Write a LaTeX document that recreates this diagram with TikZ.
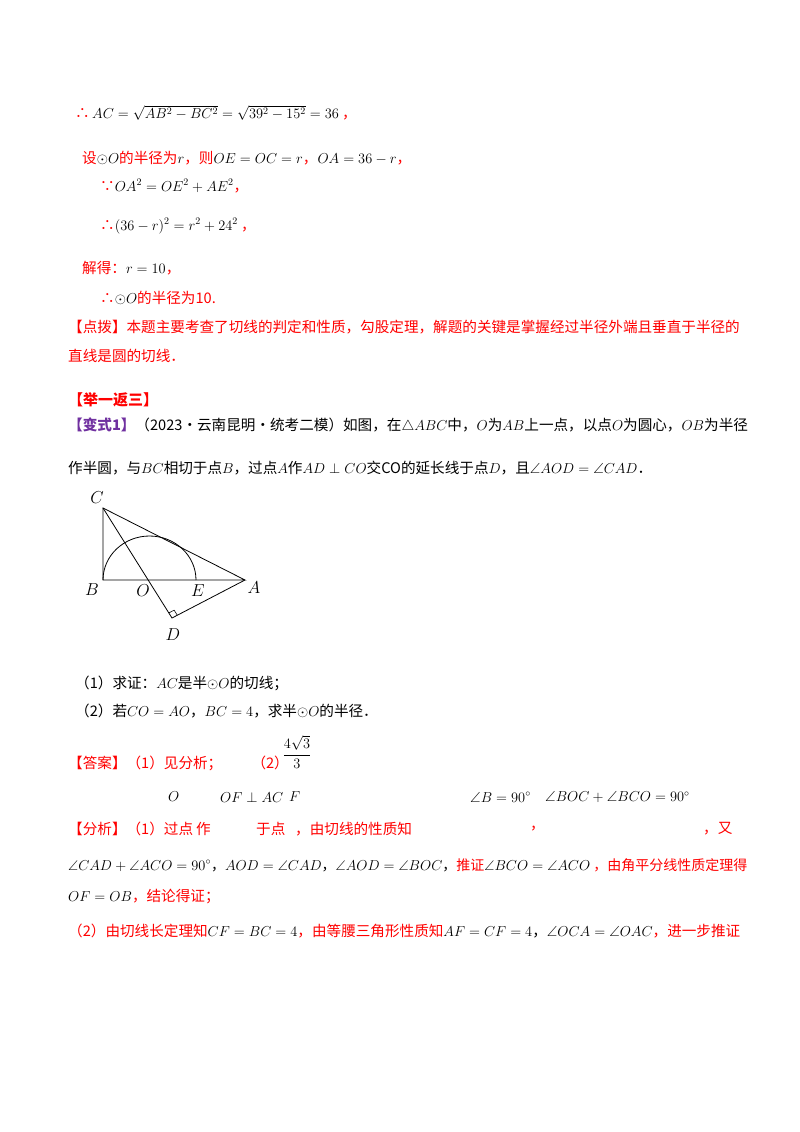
\documentclass[tikz,border=0pt]{standalone}
\usepackage{amsmath,amssymb}
\usepackage{fontspec}
\usetikzlibrary{calc}
\setmainfont{Noto Sans CJK SC}
\definecolor{rd}{RGB}{255,0,0}
\definecolor{pu}{RGB}{112,48,160}
\newcommand{\R}[1]{\textcolor{rd}{#1}}
\begin{document}
\begin{tikzpicture}[x=1pt,y=-1pt,
  ln/.style={anchor=west,inner sep=0pt,font=\fontsize{14.6}{16}\selectfont},
  lb/.style={inner sep=0pt,font=\fontsize{16}{16}\selectfont}]
\useasboundingbox (0,0) rectangle (800,1132);
\fill[white] (0,0) rectangle (800,1132);
\node[ln] (l1) at (75,113) {\R{∴}\,$AC=\sqrt{AB^2-BC^2}=\sqrt{39^2-15^2}=36$\ \R{，}};
\node[ln] (l2) at (82,158) {\R{设}$\odot O$\R{的半径为}$r$\R{，则}$OE=OC=r$\R{，}$OA=36-r$\R{，}};
\node[ln] (l3) at (100,186) {\R{∵}$OA^2=OE^2+AE^2$\R{，}};
\node[ln] (l4) at (100,226) {\R{∴}$(36-r)^2=r^2+24^2$\ \R{，}};
\node[ln] (l5) at (82,268) {\R{解得：}$r=10$\R{，}};
\node[ln] (l6) at (100,298) {\R{∴}$\odot O$\R{的半径为10.}};
\node[ln] (l7) at (68,327) {\R{【点拨】本题主要考查了切线的判定和性质，勾股定理，解题的关键是掌握经过半径外端且垂直于半径的}};
\node[ln] (l8) at (68,356) {\R{直线是圆的切线．}};
\node[ln,font=\fontsize{15}{16}\selectfont\bfseries] (l9) at (68,400) {\R{【举一返三】}};
\node[ln] (l10) at (68,426) {\textcolor{pu}{\bfseries【变式1】}（2023·云南昆明·统考二模）如图，在$\triangle ABC$中，$O$为$AB$上一点，以点$O$为圆心，$OB$为半径};
\node[ln] (l11) at (68,468) {作半圆，与$BC$相切于点$B$，过点$A$作$AD\perp CO$交CO的延长线于点$D$，且$\angle AOD=\angle CAD$．};
% figure
\coordinate (C) at (103,508);
\coordinate (B) at (103,580);
\coordinate (A) at (245,580);
\coordinate (O) at (149,580);
\coordinate (E) at (196,580);
\coordinate (D) at (172,618);
\draw[line width=0.8pt] (C)--(B)--(A)--cycle;
\draw[line width=0.8pt] (C)--(D)--(A);
\draw[line width=0.8pt] (B) arc[start angle=180,end angle=360,x radius=46.5,y radius=44];
\coordinate (p1) at ($(D)!6pt!(C)$);
\coordinate (p2) at ($(D)!6pt!(A)$);
\draw[line width=0.6pt] (p1) -- ($(p1)+(p2)-(D)$) -- (p2);
\node[lb] (tC) at (97,498) {$C$};
\node[lb] (tB) at (92,590) {$B$};
\node[lb] (tO) at (143,591) {$O$};
\node[lb] (tE) at (198,591) {$E$};
\node[lb] (tA) at (254,588) {$A$};
\node[lb] (tD) at (173,635) {$D$};
%
\node[ln] (q1) at (75,683) {（1）求证：$AC$是半$\odot O$的切线；};
\node[ln] (q2) at (75,711) {（2）若$CO=AO$，$BC=4$，求半$\odot O$的半径．};
\node[ln] (a1) at (68,763) {\R{【答案】（1）见分析；\quad\quad （2）}};
\node[inner sep=0pt,font=\fontsize{15}{15}\selectfont] (a2) at (297,752) {$\dfrac{4\sqrt3}{3}$};
%
\node[ln] (f1) at (68,829) {\R{【分析】（1）过点}};
\node[ln] (f1a) at (168,797) {$O$};
\node[ln] (f1b) at (196,829) {\R{作}};
\node[ln] (f1c) at (220,797) {$OF\perp AC$};
\node[ln] (f1d) at (256,829) {\R{于点}};
\node[ln] (f1e) at (289,797) {$F$};
\node[ln] (f1f) at (295,829) {\R{，由切线的性质知}};
\node[ln] (f1g) at (470,797) {$\angle B=90^\circ$};
\node[ln] (f1h) at (530,829) {\R{，}};
\node[ln] (f1i) at (545,797) {$\angle BOC+\angle BCO=90^\circ$};
\node[ln] (f1j) at (703,829) {\R{，又}};
\node[ln,font=\fontsize{14}{16}\selectfont] (f2) at (68,865) {$\angle CAD+\angle ACO=90^\circ$，$AOD=\angle CAD$，$\angle AOD=\angle BOC$，\R{推证}$\angle BCO=\angle ACO$\ \R{，由角平分线性质定理得}};
\node[ln] (f3) at (68,897) {$OF=OB$\R{，结论得证；}};
\node[ln] (f4) at (68,931) {\R{（2）由切线长定理知}$CF=BC=4$\R{，由等腰三角形性质知}$AF=CF=4$，$\angle OCA=\angle OAC$\R{，进一步推证}};
\end{tikzpicture}
\end{document}
